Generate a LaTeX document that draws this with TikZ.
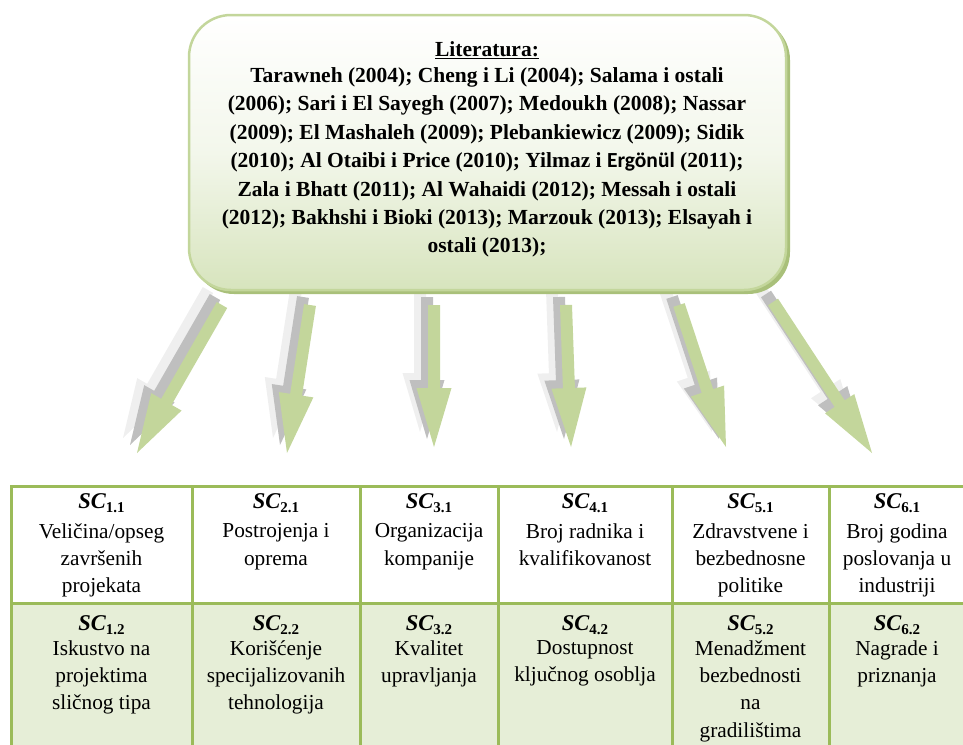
\documentclass[tikz,border=0pt]{standalone}
\usepackage{fontspec}
\setmainfont{Liberation Serif}
\newfontfamily\carlito{Carlito}
\usetikzlibrary{calc}
\definecolor{tgreen}{HTML}{9BBB59}
\definecolor{agreen}{HTML}{C3D69B}
\definecolor{rowfill}{HTML}{E6EED7}
\definecolor{boxbot}{HTML}{D7E4BD}
\definecolor{boxshadow}{HTML}{A9C07A}
\definecolor{dgray}{HTML}{BFBFBF}
\definecolor{lgray}{HTML}{EFEFEF}

\newcommand\blockarrow[4]{%
  \coordinate (ba-t) at ($(#2)+(#4)$);
  \coordinate (ba-p) at ($(#3)+(#4)$);
  \coordinate (ba-h) at ($(ba-p)!59pt!(ba-t)$);
  \fill[#1] ($(ba-t)!6pt!90:(ba-p)$) -- ($(ba-h)!6pt!90:(ba-p)$) -- ($(ba-h)!17.5pt!90:(ba-p)$) -- (ba-p)
    -- ($(ba-h)!17.5pt!-90:(ba-p)$) -- ($(ba-h)!6pt!-90:(ba-p)$) -- ($(ba-t)!6pt!-90:(ba-p)$) -- cycle;
}
\newcommand\sclab[1]{{\fontsize{22.5}{22}\selectfont\bfseries\itshape SC}\raisebox{-4pt}{\fontsize{15}{15}\selectfont\bfseries #1}}

\tikzset{
  sclabel/.style={anchor=base, inner sep=0pt},
  cellbody/.style={anchor=north, align=center, inner sep=0pt, font=\fontsize{21.3}{27.2}\selectfont},
  grid/.style={draw=tgreen, line width=3pt},
}

\begin{document}
\begin{tikzpicture}[x=1pt,y=-1pt]
\useasboundingbox (0,0) rectangle (963,744);

% arrow anchor points (tail, tip)
\coordinate (t1) at (222,305); \coordinate (p1) at (137,453);
\coordinate (t2) at (310,305); \coordinate (p2) at (287,453);
\coordinate (t3) at (434,305); \coordinate (p3) at (434,447);
\coordinate (t4) at (566,305); \coordinate (p4) at (571,447);
\coordinate (t5) at (679,305); \coordinate (p5) at (726,447);
\coordinate (t6) at (773,302); \coordinate (p6) at (872,453);

\foreach \i in {1,...,6} {\blockarrow{lgray}{t\i}{p\i}{-14,-15}}
\foreach \i in {1,...,6} {\blockarrow{dgray}{t\i}{p\i}{-7,-8}}
\foreach \i in {1,...,6} {\blockarrow{agreen}{t\i}{p\i}{0,0}}

% literature box
\fill[boxshadow, rounded corners=42pt] (192,18) rectangle (790,294);
\node (lit) [draw=agreen, line width=2.5pt, rounded corners=42pt,
  top color=white, bottom color=boxbot, middle color=boxbot!30!white,
  minimum width=597pt, minimum height=275pt, inner sep=0pt] at (487.5,152.5) {};
\node (littext) [anchor=north, align=center, inner sep=0pt,
  font=\fontsize{21.5}{28.4}\selectfont\bfseries] at (487,41.5) {%
  \underline{Literatura:}\\[-2.5pt]
  Tarawneh (2004); Cheng i Li (2004); Salama i ostali\\
  (2006); Sari i El Sayegh (2007); Medoukh (2008); Nassar\\
  (2009); El Mashaleh (2009); Plebankiewicz (2009); Sidik\\
  (2010); Al Otaibi i Price (2010); Yilmaz i {\carlito Ergönül} (2011);\\
  Zala i Bhatt (2011); Al Wahaidi (2012); Messah i ostali\\
  (2012); Bakhshi i Bioki (2013); Marzouk (2013); Elsayah i\\
  ostali (2013);};

% table
\fill[rowfill] (11,603) rectangle (975,760);
\draw[grid] (11,760) -- (11,486) -- (975,486);
\draw[grid] (11,603) -- (975,603);
\foreach \x in {192,360,498,672,829} {\draw[grid] (\x,486) -- (\x,760);}

% row 1
\node[sclabel] (s11) at (101.5,508) {\sclab{1.1}};
\node[cellbody] (b11) at (101.5,523.5) {Veličina/opseg\\završenih\\projekata};
\node[sclabel] (s21) at (276,508) {\sclab{2.1}};
\node[cellbody] (b21) at (276,523.5) {Postrojenja i\\oprema};
\node[sclabel] (s31) at (429,508) {\sclab{3.1}};
\node[cellbody] (b31) at (429,523.5) {Organizacija\\kompanije};
\node[sclabel] (s41) at (585,508) {\sclab{4.1}};
\node[cellbody] (b41) at (585,523.5) {Broj radnika i\\kvalifikovanost};
\node[sclabel] (s51) at (750.5,508) {\sclab{5.1}};
\node[cellbody] (b51) at (750.5,523.5) {Zdravstvene i\\bezbednosne\\politike};
\node[sclabel] (s61) at (897,508) {\sclab{6.1}};
\node[cellbody] (b61) at (897,523.5) {Broj godina\\poslovanja u\\industriji};

% row 2
\node[sclabel] (s12) at (101.5,630) {\sclab{1.2}};
\node[cellbody] (b12) at (101.5,640.5) {Iskustvo na\\projektima\\sličnog tipa};
\node[sclabel] (s22) at (276,630) {\sclab{2.2}};
\node[cellbody] (b22) at (276,640.5) {Korišćenje\\specijalizovanih\\tehnologija};
\node[sclabel] (s32) at (429,630) {\sclab{3.2}};
\node[cellbody] (b32) at (429,640.5) {Kvalitet\\upravljanja};
\node[sclabel] (s42) at (585,630) {\sclab{4.2}};
\node[cellbody] (b42) at (585,640.5) {Dostupnost\\ključnog osoblja};
\node[sclabel] (s52) at (750.5,630) {\sclab{5.2}};
\node[cellbody] (b52) at (750.5,640.5) {Menadžment\\bezbednosti\\na\\gradilištima};
\node[sclabel] (s62) at (897,630) {\sclab{6.2}};
\node[cellbody] (b62) at (897,640.5) {Nagrade i\\priznanja};
\end{tikzpicture}
\end{document}
